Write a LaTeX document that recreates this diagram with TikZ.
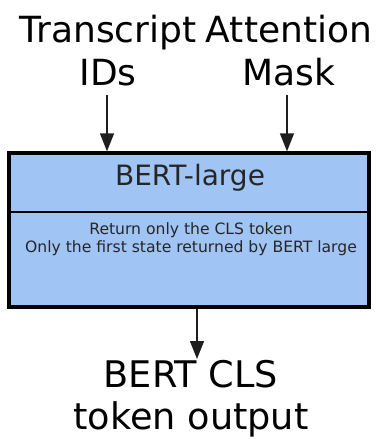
\documentclass[tikz,border=0pt]{standalone}
\usepackage{fontspec}
\setmainfont{DejaVu Sans}
\usetikzlibrary{arrows.meta}
\definecolor{boxfill}{RGB}{160,196,244}
\definecolor{linegray}{RGB}{30,30,30}
\begin{document}
\begin{tikzpicture}[x=0.75pt,y=-0.75pt,
  label/.style={align=center,anchor=base,inner sep=0pt,font=\fontsize{27pt}{32pt}\selectfont},
  outlabel/.style={align=center,anchor=base,inner sep=0pt,font=\fontsize{27.5pt}{31pt}\selectfont},
  arr/.style={draw=linegray,line width=1.1pt,-{Triangle[length=13.5pt,width=10.5pt]}},
  block/.style={draw=black,line width=3pt,fill=boxfill,minimum width=270pt,minimum height=115pt,inner sep=0pt}]
\useasboundingbox (0,0) rectangle (375,439);

% the model block with its title and description
\node[block] (bert) at (189,230) {};
\draw[line width=1.1pt] (bert.west |- 0,212) -- (bert.east |- 0,212);
\node[anchor=base,inner sep=0pt,text=black!85,font=\fontsize{21pt}{24pt}\selectfont] (title) at (190,185) {BERT-large};
\node[anchor=base,inner sep=0pt,align=center,text=black!85,font=\fontsize{11.7pt}{13.5pt}\selectfont] (desc) at (191,252)
  {Return only the CLS token\\Only the first state returned by BERT large};

% inputs
\node[label] (ids) at (108,85) {Transcript\\IDs};
\node[label] (mask) at (289,85) {Attention\\Mask};
\coordinate (idsfrom) at (107,95);
\coordinate (maskfrom) at (287,95);
\draw[arr] (idsfrom) -- (idsfrom |- bert.north);
\draw[arr] (maskfrom) -- (maskfrom |- bert.north);

% output
\node[outlabel] (out) at (191,429) {BERT CLS\\token output};
\coordinate (outtip) at (197,359);
\draw[arr] (bert.south -| outtip) -- (outtip);
\end{tikzpicture}
\end{document}
